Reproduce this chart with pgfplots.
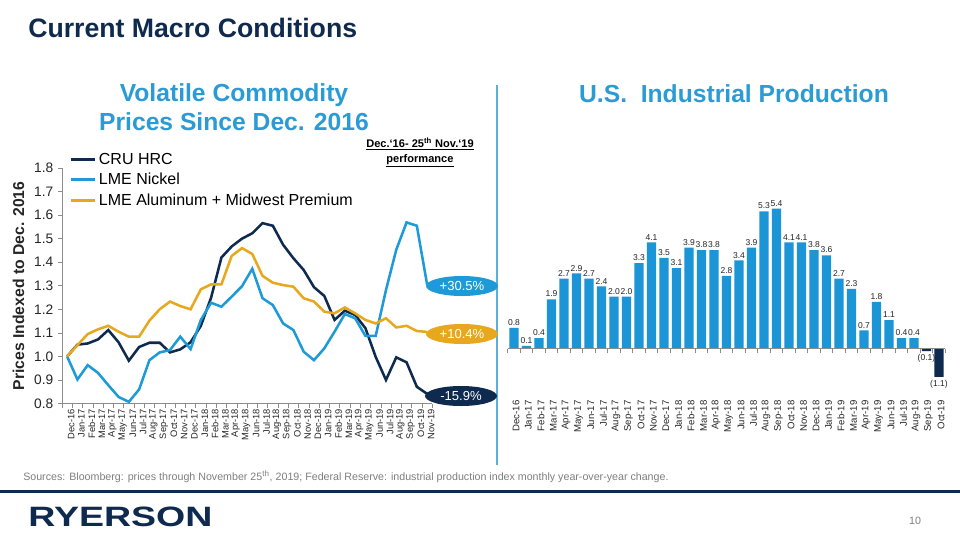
\documentclass[border=0pt]{standalone}
\usepackage{pgfplots}
\pgfplotsset{compat=1.18}
\usepackage{pgfplotstable}
\usepackage{fontspec}
\setmainfont{Liberation Sans}
\usetikzlibrary{shapes.geometric}
\definecolor{navy}{HTML}{0E2A4E}
\definecolor{nickel}{HTML}{1E9BD7}
\definecolor{gold}{HTML}{E8A81E}
\definecolor{barblue}{HTML}{1C95D6}
\definecolor{titleblue}{HTML}{2A9BD4}
\definecolor{axisgray}{HTML}{8C8C8C}
\definecolor{txtgray}{HTML}{7F7F7F}
\definecolor{divider}{HTML}{5BB0DA}
\definecolor{ticktxt}{HTML}{262626}

\pgfplotstableread{
x cru nickel alu
0 1.000 1.000 1.000
1 1.050 0.902 1.048
2 1.055 0.963 1.095
3 1.072 0.930 1.115
4 1.112 0.878 1.130
5 1.060 0.828 1.105
6 0.982 0.807 1.084
7 1.040 0.860 1.084
8 1.058 0.984 1.152
9 1.058 1.017 1.200
10 1.017 1.027 1.233
11 1.030 1.084 1.214
12 1.060 1.031 1.200
13 1.130 1.155 1.285
14 1.250 1.228 1.306
15 1.420 1.211 1.306
16 1.467 1.254 1.427
17 1.500 1.298 1.460
18 1.523 1.372 1.435
19 1.566 1.247 1.342
20 1.555 1.218 1.313
21 1.474 1.140 1.303
22 1.417 1.112 1.296
23 1.367 1.020 1.247
24 1.294 0.984 1.233
25 1.257 1.034 1.190
26 1.155 1.105 1.183
27 1.194 1.180 1.208
28 1.176 1.162 1.183
29 1.120 1.087 1.155
30 0.998 1.087 1.140
31 0.900 1.282 1.162
32 0.996 1.453 1.123
33 0.975 1.569 1.130
34 0.871 1.555 1.108
35 0.841 1.305 1.104
}\commodity

\pgfplotstableread{
x y lab
0 0.8 0.8
1 0.1 0.1
2 0.4 0.4
3 1.9 1.9
4 2.7 2.7
5 2.9 2.9
6 2.7 2.7
7 2.4 2.4
8 2.0 2.0
9 2.0 2.0
10 3.3 3.3
11 4.1 4.1
12 3.5 3.5
13 3.1 3.1
14 3.9 3.9
15 3.8 3.8
16 3.8 3.8
17 2.8 2.8
18 3.4 3.4
19 3.9 3.9
20 5.3 5.3
21 5.4 5.4
22 4.1 4.1
23 4.1 4.1
24 3.8 3.8
25 3.6 3.6
26 2.7 2.7
27 2.3 2.3
28 0.7 0.7
29 1.8 1.8
30 1.1 1.1
31 0.4 0.4
32 0.4 0.4
}\ippos

\pgfplotstableread{
x y lab
33 -0.1 (0.1)
34 -1.1 (1.1)
}\ipneg

\begin{document}
\begin{tikzpicture}[x=0.75pt,y=-0.75pt]
\fill[white] (0,0) rectangle (960,540);

% titles
\node[anchor=base west, inner sep=0, font=\fontsize{20}{22}\selectfont\bfseries, text=navy] at (28,37) {Current Macro Conditions};
\node[anchor=base, inner sep=0, font=\fontsize{18.5}{21.2}\selectfont\bfseries, text=titleblue, align=center] at (234,130) {Volatile Commodity\\Prices Since Dec. 2016};
\node[anchor=base, inner sep=0, font=\fontsize{18.5}{21.5}\selectfont\bfseries, text=titleblue] at (734,102) {U.S.\ \ Industrial Production};
\node[anchor=base, inner sep=0, font=\fontsize{8.3}{11.2}\selectfont\bfseries, align=center] at (420,162) {\underline{Dec.‘16- 25\textsuperscript{th} Nov.‘19}\\\underline{performance}};

% divider
\draw[divider, line width=1pt] (497,85) -- (497,465);

% y label
\node[rotate=90, font=\fontsize{11.8}{13}\selectfont\bfseries, text=ticktxt, inner sep=0] at (18.5,286) {Prices Indexed to Dec. 2016};

% left chart
\begin{axis}[
  at={(46.5pt,-302.625pt)}, anchor=south west,
  scale only axis, width=277.7pt, height=176.6pt,
  xmin=-0.5, xmax=35.5, ymin=0.8, ymax=1.8,
  axis x line*=bottom, axis y line*=left,
  axis line style={axisgray, line width=0.6pt},
  ytick={0.8,0.9,1.0,1.1,1.2,1.3,1.4,1.5,1.6,1.7,1.8},
  yticklabel={\pgfmathprintnumber[fixed,fixed zerofill,precision=1,assume math mode=true]{\tick}},
  yticklabel style={font=\fontsize{10.3}{12}\selectfont, text=ticktxt},
  tick align=outside, major tick length=3pt, minor tick length=3pt,
  tick style={axisgray, line width=0.5pt},
  xtick={0,...,35},
  major x tick style={draw=none},
  minor xtick={-0.5,0.5,...,35.5},
  xticklabels={Dec-16,Jan-17,Feb-17,Mar-17,Apr-17,May-17,Jun-17,Jul-17,Aug-17,Sep-17,Oct-17,Nov-17,Dec-17,Jan-18,Feb-18,Mar-18,Apr-18,May-18,Jun-18,Jul-18,Aug-18,Sep-18,Oct-18,Nov-18,Dec-18,Jan-19,Feb-19,Mar-19,Apr-19,May-19,Jun-19,Jul-19,Aug-19,Sep-19,Oct-19,Nov-19},
  xticklabel style={rotate=90, anchor=east, font=\fontsize{7}{8}\selectfont, text=ticktxt, inner sep=1pt, yshift=-3pt},
  clip=false,
  legend style={at={(axis description cs:0.02,1.075)}, anchor=north west, draw=none, fill=none,
    font=\fontsize{12}{13}\selectfont, row sep=1pt, inner sep=0pt},
  legend cell align=left,
  legend image code/.code={\draw[#1, line width=2.3pt] (0pt,0pt) -- (0.62cm,0pt);},
]
\addplot[navy, line width=1.9pt] table[x=x,y=cru]{\commodity};
\addlegendentry{CRU HRC}
\addplot[nickel, line width=1.9pt] table[x=x,y=nickel]{\commodity};
\addlegendentry{LME Nickel}
\addplot[gold, line width=1.9pt] table[x=x,y=alu]{\commodity};
\addlegendentry{LME Aluminum + Midwest Premium}
\end{axis}

% performance ovals
\node[ellipse, fill=nickel, text=white, minimum width=54pt, minimum height=15pt, inner sep=0, font=\fontsize{9.8}{10}\selectfont] at (462,286) {+30.5\%};
\node[ellipse, fill=gold, text=white, minimum width=54pt, minimum height=15pt, inner sep=0, font=\fontsize{9.8}{10}\selectfont] at (462,334) {+10.4\%};
\node[ellipse, fill=navy, text=white, minimum width=54pt, minimum height=15pt, inner sep=0, font=\fontsize{9.8}{10}\selectfont] at (461,396) {-15.9\%};

% right chart
\begin{axis}[
  at={(380.8pt,-299.25pt)}, anchor=south west,
  scale only axis, width=328.1pt, height=158.3pt,
  xmin=-0.5, xmax=34.5, ymin=-1.95, ymax=6.2,
  axis x line*=bottom, axis y line=none,
  x axis line style={draw=none},
  xtick={0,...,34}, major tick length=0pt,
  xticklabels={Dec-16,Jan-17,Feb-17,Mar-17,Apr-17,May-17,Jun-17,Jul-17,Aug-17,Sep-17,Oct-17,Nov-17,Dec-17,Jan-18,Feb-18,Mar-18,Apr-18,May-18,Jun-18,Jul-18,Aug-18,Sep-18,Oct-18,Nov-18,Dec-18,Jan-19,Feb-19,Mar-19,Apr-19,May-19,Jun-19,Jul-19,Aug-19,Sep-19,Oct-19},
  xticklabel style={rotate=90, anchor=east, font=\fontsize{7.2}{8}\selectfont, text=ticktxt, inner sep=1pt, yshift=-1.5pt},
  ybar, bar width=7pt, bar shift=0pt,
  nodes near coords, point meta=explicit symbolic,
  nodes near coords style={font=\fontsize{6.4}{7}\selectfont, text=ticktxt, inner sep=1.5pt},
  clip=false,
]
\addplot[fill=barblue, draw=none] table[x=x,y=y,meta=lab]{\ippos};
\addplot[fill=navy, draw=none, every node near coord/.append style={anchor=north, yshift=-1pt}] table[x=x,y=y,meta=lab]{\ipneg};
\draw[axisgray, line width=0.6pt] (axis cs:-0.5,0) -- (axis cs:34.5,0);
\pgfplotsinvokeforeach{0,...,35}{\draw[axisgray, line width=0.5pt] (axis cs:#1-0.5,0) -- ++(0pt,-3pt);}
\end{axis}

% footer
\node[anchor=base west, inner sep=0, font=\fontsize{8}{9}\selectfont, text=txtgray] at (23,480) {Sources: Bloomberg: prices through November 25\textsuperscript{th}, 2019; Federal Reserve: industrial production index monthly year-over-year change.};
\fill[navy] (0,489.5) rectangle (960,492.5);
\node[anchor=base west, inner sep=0, font=\fontsize{21}{22}\selectfont\bfseries, text=navy, xscale=1.34] at (28,526.7) {RYERSON};
\node[anchor=base, inner sep=0, font=\fontsize{8}{9}\selectfont, text=txtgray] at (915,524) {10};
\end{tikzpicture}
\end{document}
